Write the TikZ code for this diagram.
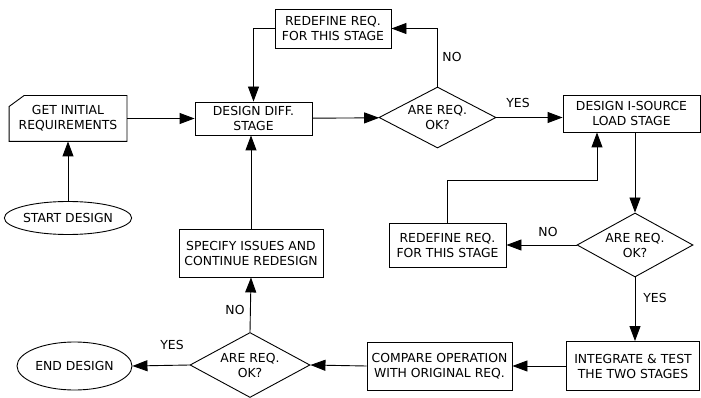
\documentclass[tikz,border=0pt]{standalone}
\usepackage{fontspec}
\setmainfont{DejaVu Sans}
\usetikzlibrary{shapes.geometric,arrows.meta}

\tikzset{
  txt/.style={font=\fontsize{12.4pt}{15pt}\selectfont, align=center, inner sep=0pt},
  box/.style={txt, draw, rectangle},
  term/.style={txt, draw, ellipse},
  query/.style={txt, draw, diamond, aspect=1.9},
  arr/.style={-{Triangle[length=15pt,width=11pt]}},
}

\begin{document}
\begin{tikzpicture}[x=1pt, y=-1pt, line width=0.9pt]

    % 範囲の定義
    \useasboundingbox (0,0) rectangle (701,398);

    % 点の定義
    \coordinate (Pinit) at (68,118.5);
    \coordinate (Pstart) at (68,218);
    \coordinate (Pdiff) at (253.5,118.5);
    \coordinate (Predef1) at (333,28.5);
    \coordinate (Pq1) at (437.5,117.5);
    \coordinate (Psrc) at (631.5,113.5);
    \coordinate (Pq2) at (635,245);
    \coordinate (Predef2) at (447.5,245);
    \coordinate (Pinteg) at (633,366);
    \coordinate (Pcomp) at (439.5,366);
    \coordinate (Pq3) at (250,365);
    \coordinate (Pend) at (74.5,366);
    \coordinate (Pspec) at (251,253);

    % ノードの描画
    \node (init) at (Pinit) [txt, minimum width=117pt, minimum height=45pt] {GET INITIAL\\REQUIREMENTS};
    \draw (init.south west) -- ([yshift=-11pt]init.north west) -- ([xshift=15pt]init.north west)
        -- (init.north east) -- (init.south east) -- cycle;
    \node (start) at (Pstart) [term, minimum width=116pt, minimum height=33pt] {START DESIGN};
    \node (diff) at (Pdiff) [box, minimum width=117pt, minimum height=33pt] {DESIGN DIFF.\\STAGE};
    \node (redef1) at (Predef1) [box, minimum width=116pt, minimum height=39pt] {REDEFINE REQ.\\FOR THIS STAGE};
    \node (q1) at (Pq1) [query, minimum width=117pt, minimum height=61pt] {ARE REQ.\\OK?};
    \node (src) at (Psrc) [box, minimum width=137pt, minimum height=37pt] {DESIGN I-SOURCE\\LOAD STAGE};
    \node (q2) at (Pq2) [query, minimum width=116pt, minimum height=64pt] {ARE REQ.\\OK?};
    \node (redef2) at (Predef2) [box, minimum width=117pt, minimum height=44pt] {REDEFINE REQ.\\FOR THIS STAGE};
    \node (integ) at (Pinteg) [box, minimum width=133pt, minimum height=49pt] {INTEGRATE \& TEST\\THE TWO STAGES};
    \node (comp) at (Pcomp) [box, minimum width=145pt, minimum height=48pt] {COMPARE OPERATION\\WITH ORIGINAL REQ.};
    \node (q3) at (Pq3) [query, minimum width=120pt, minimum height=65pt] {ARE REQ.\\OK?};
    \node (end) at (Pend) [term, minimum width=115pt, minimum height=48pt] {END DESIGN};
    \node (spec) at (Pspec) [box, minimum width=144pt, minimum height=48pt] {SPECIFY ISSUES AND\\CONTINUE REDESIGN};

    % ラベルの描画
    \node (no1) at (452,57) [txt] {NO};
    \node (yes1) at (518,103) [txt] {YES};
    \node (no2) at (548,232) [txt] {NO};
    \node (yes2) at (655,298) [txt] {YES};
    \node (yes3) at (172,345) [txt] {YES};
    \node (no3) at (235,310) [txt] {NO};

    % 矢印の描画
    \draw [arr] (start) -- (init);
    \draw [arr] (init) -- (diff);
    \draw [arr] (diff) -- (q1);
    \draw [arr] (q1.north) |- (redef1.east);
    \draw [arr] (redef1.west) -| (diff.north);
    \draw [arr] (q1.east) -- (q1.east -| src.west);
    \draw [arr] (src.south -| q2.north) -- (q2.north);
    \draw [arr] (q2.west) -- (redef2.east);
    \coordinate (turn) at (597,180);
    \draw [arr] (redef2.north) |- (turn) -- (turn |- src.south);
    \draw [arr] (q2.south) -- (q2.south |- integ.north);
    \draw [arr] (integ.west) -- (comp.east);
    \draw [arr] (comp.west) -- (q3.east);
    \draw [arr] (q3.west) -- (end.east);
    \draw [arr] (q3.north) -- (spec.south);
    \draw [arr] (spec.north) -- (spec.north |- diff.south);

\end{tikzpicture}
\end{document}
